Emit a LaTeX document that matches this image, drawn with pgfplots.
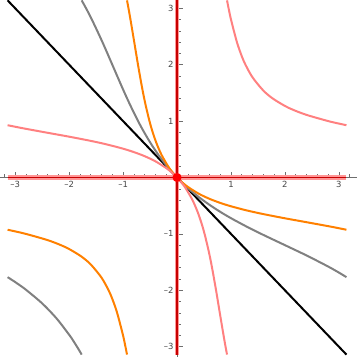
\documentclass[border=0pt]{standalone}
\usepackage{pgfplots}
\pgfplotsset{compat=1.18}
\usepackage{fontspec}
\setmainfont{DejaVu Sans}

\definecolor{curvegray}{RGB}{128,128,128}
\definecolor{curveorange}{RGB}{255,128,0}
\definecolor{curvepink}{RGB}{255,128,128}
\definecolor{axisred}{RGB}{200,0,0}
\definecolor{axishalo}{RGB}{255,150,150}
\definecolor{tickgray}{RGB}{110,110,110}
\definecolor{labelgray}{RGB}{70,70,70}

\begin{document}
\begin{tikzpicture}
\begin{axis}[
    scale only axis,
    width=357bp, height=357bp,
    xmin=-3.278, xmax=3.333,
    ymin=-3.18, ymax=3.144,
    enlargelimits=false,
    axis lines=middle,
    axis line style={draw=tickgray, line width=0.5bp, -},
    axis on top=false,
    xtick={-3,-2,-1,1,2,3},
    ytick={-3,-2,-1,1,2,3},
    xticklabels={--3,--2,--1,1,2,3},
    yticklabels={--3,--2,--1,1,2,3},
    minor xtick={-3.2,-2.8,-2.6,-2.4,-2.2,-1.8,-1.6,-1.4,-1.2,-0.8,-0.6,-0.4,-0.2,
                 0.2,0.4,0.6,0.8,1.2,1.4,1.6,1.8,2.2,2.4,2.6,2.8,3.2},
    minor ytick={-3.2,-2.8,-2.6,-2.4,-2.2,-1.8,-1.6,-1.4,-1.2,-0.8,-0.6,-0.4,-0.2,
                 0.2,0.4,0.6,0.8,1.2,1.4,1.6,1.8,2.2,2.4,2.6,2.8},
    tick align=inside,
    major tick length=5.5bp,
    minor tick length=3.5bp,
    tick style={draw=tickgray, line width=0.5bp},
    ticklabel style={font=\fontsize{8.5}{10}\selectfont, text=labelgray},
    every axis plot/.append style={line width=2bp, line join=round, no markers},
]

% y = -x
\addplot[black] coordinates {(-3.1416,3.1416) (3.1416,-3.1416)};

% gray, main branch
\addplot[curvegray, smooth] coordinates {
(-1.768,3.1416) (-1.6861,3.0) (-1.5783,2.8) (-1.3823,2.4) (-1.1998,2.0)
(-1.0184,1.6) (-0.8759,1.3) (-0.72156,1.0) (-0.6084,0.8) (-0.48384,0.6)
(-0.3442,0.4) (-0.18488,0.2) (0,0) (0.2,-0.18488) (0.4,-0.3442)
(0.6,-0.48384) (0.8,-0.6084) (1.0,-0.72156) (1.3,-0.8759) (1.6,-1.0184)
(2.0,-1.1998) (2.4,-1.3823) (2.8,-1.5783) (3.0,-1.6861) (3.1416,-1.768)
};
% gray, lower left branch
\addplot[curvegray, smooth] coordinates {
(-3.1416,-1.768) (-3.0887,-1.8) (-3.0,-1.8558) (-2.9326,-1.9) (-2.8,-1.9923)
(-2.5,-2.2341) (-2.2341,-2.5) (-1.9923,-2.8) (-1.9,-2.9326) (-1.8558,-3.0)
(-1.8,-3.0887) (-1.768,-3.1416)
};

% orange, main branch
\addplot[curveorange, smooth] coordinates {
(-0.9273,3.1416) (-0.8997,3.0) (-0.8628,2.8) (-0.7929,2.4) (-0.7237,2.0)
(-0.6493,1.6) (-0.5859,1.3) (-0.5107,1.0) (-0.4504,0.8) (-0.3777,0.6)
(-0.2865,0.4) (-0.1667,0.2) (-0.0909,0.1) (0,0) (0.1,-0.0909)
(0.2,-0.1667) (0.4,-0.2865) (0.6,-0.3777) (0.8,-0.4504) (1.0,-0.5107)
(1.3,-0.5859) (1.6,-0.6493) (2.0,-0.7237) (2.4,-0.7929) (2.8,-0.8628)
(3.0,-0.8997) (3.1416,-0.9273)
};
% orange, lower left branch
\addplot[curveorange, smooth] coordinates {
(-3.1416,-0.9273) (-3.0,-0.9565) (-2.8,-1.0014) (-2.4,-1.1109) (-2.1539,-1.2)
(-2.0,-1.2695) (-1.7766,-1.4) (-1.6,-1.5424) (-1.4,-1.7766) (-1.2695,-2.0)
(-1.2,-2.1539) (-1.1109,-2.4) (-1.0014,-2.8) (-0.9565,-3.0) (-0.9273,-3.1416)
};

% pink, main branch
\addplot[curvepink, smooth] coordinates {
(-3.1416,0.9273) (-3.0,0.8997) (-2.8,0.8628) (-2.4,0.7929) (-2.0,0.7237)
(-1.6,0.6493) (-1.3,0.5859) (-1.0,0.5107) (-0.8,0.4504) (-0.6,0.3777)
(-0.4,0.2865) (-0.2,0.1667) (-0.1,0.0909) (0,0) (0.0909,-0.1)
(0.1667,-0.2) (0.2865,-0.4) (0.3777,-0.6) (0.4504,-0.8) (0.5107,-1.0)
(0.5859,-1.3) (0.6493,-1.6) (0.7237,-2.0) (0.7929,-2.4) (0.8628,-2.8)
(0.8997,-3.0) (0.9273,-3.1416)
};
% pink, upper right branch
\addplot[curvepink, smooth] coordinates {
(0.9273,3.1416) (0.9565,3.0) (1.0014,2.8) (1.1109,2.4) (1.2,2.1539)
(1.2695,2.0) (1.4,1.7766) (1.6,1.5424) (1.7766,1.4) (2.0,1.2695)
(2.1539,1.2) (2.4,1.1109) (2.8,1.0014) (3.0,0.9565) (3.1416,0.9273)
};

% highlighted axes and origin
\addplot[axishalo, line width=4.5bp] coordinates {(-3.1416,0) (3.1416,0)};
\addplot[axishalo, line width=4.5bp] coordinates {(0,-3.1416) (0,3.1416)};
\addplot[axisred, line width=1.6bp] coordinates {(-3.1416,0) (3.1416,0)};
\addplot[axisred, line width=1.6bp] coordinates {(0,-3.1416) (0,3.1416)};
\addplot[only marks, mark=*, mark size=3.5bp, color=red] coordinates {(0,0)};

\end{axis}
\end{tikzpicture}
\end{document}
